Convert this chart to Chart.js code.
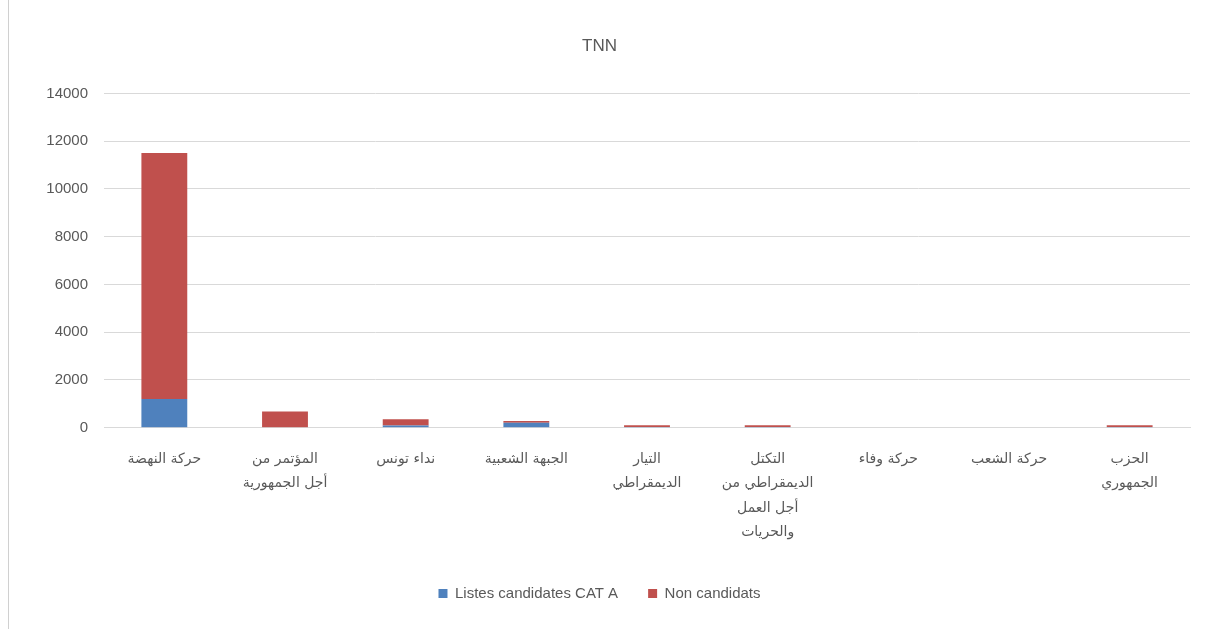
<!DOCTYPE html>
<html>
<head>
<meta charset="utf-8">
<script src="https://cdn.jsdelivr.net/npm/chart.js@4/dist/chart.umd.min.js"></script>
<style>
  html, body { margin: 0; padding: 0; background: #fff; }
  #wrap { position: absolute; left: 8px; top: 0; width: 1205px; height: 629px; border-left: 1px solid #d0d0d0; }
</style>
</head>
<body>
<div id="wrap"><canvas id="chart"></canvas></div>
<script>
// ========================================
// DATA
// ========================================
const chartTitle = 'TNN';
const parties = [
  'حركة النهضة',
  ['المؤتمر من', 'أجل الجمهورية'],
  'نداء تونس',
  'الجبهة الشعبية',
  ['التيار', 'الديمقراطي'],
  ['التكتل', 'الديمقراطي من', 'أجل العمل', 'والحريات'],
  'حركة وفاء',
  'حركة الشعب',
  ['الحزب', 'الجمهوري']
];
const seriesNames = ['Listes candidates CAT A', 'Non candidats'];
const candidates = [1200, 20, 90, 210, 30, 30, 0, 0, 30];
const nonCandidates = [10300, 660, 260, 70, 70, 70, 0, 0, 70];
const yTicks = [0, 2000, 4000, 6000, 8000, 10000, 12000, 14000];

const BLUE = '#4F81BD';
const RED = '#C0504D';
const TEXT = '#595959';
const GRID = '#d9d9d9';

// ========================================
// CHART
// ========================================
const ctx = document.getElementById('chart');
new Chart(ctx, {
  type: 'bar',
  data: {
    labels: parties,
    datasets: [
      { label: seriesNames[0], data: candidates, backgroundColor: BLUE, barPercentage: 0.38, categoryPercentage: 1 },
      { label: seriesNames[1], data: nonCandidates, backgroundColor: RED, barPercentage: 0.38, categoryPercentage: 1 }
    ]
  },
  options: {
    responsive: true,
    maintainAspectRatio: false,
    animation: false,
    layout: { padding: { left: 0, right: 24, top: 0, bottom: 18 } },
    plugins: {
      title: {
        display: true,
        text: chartTitle,
        color: TEXT,
        font: { family: 'Liberation Sans', size: 17, weight: 'normal' },
        padding: { top: 36, bottom: 37 }
      },
      legend: {
        position: 'bottom',
        labels: {
          color: TEXT,
          boxWidth: 9,
          boxHeight: 9,
          padding: 30,
          font: { family: 'Liberation Sans', size: 15 }
        }
      },
      tooltip: { enabled: false }
    },
    scales: {
      x: {
        stacked: true,
        grid: { display: false },
        border: { color: GRID },
        ticks: {
          color: TEXT,
          maxRotation: 0,
          autoSkip: false,
          padding: 12,
          font: { family: 'DejaVu Sans', size: 14, lineHeight: 1.72 }
        }
      },
      y: {
        stacked: true,
        min: 0,
        max: 14000,
        afterBuildTicks: (axis) => { axis.ticks = yTicks.map(v => ({ value: v })); },
        grid: { color: GRID, drawTicks: false },
        border: { display: false },
        afterFit: (axis) => { axis.width = 95; },
        ticks: {
          color: TEXT,
          padding: 16,
          callback: (v) => String(v),
          font: { family: 'Liberation Sans', size: 15 }
        }
      }
    }
  }
});
</script>
</body>
</html>
